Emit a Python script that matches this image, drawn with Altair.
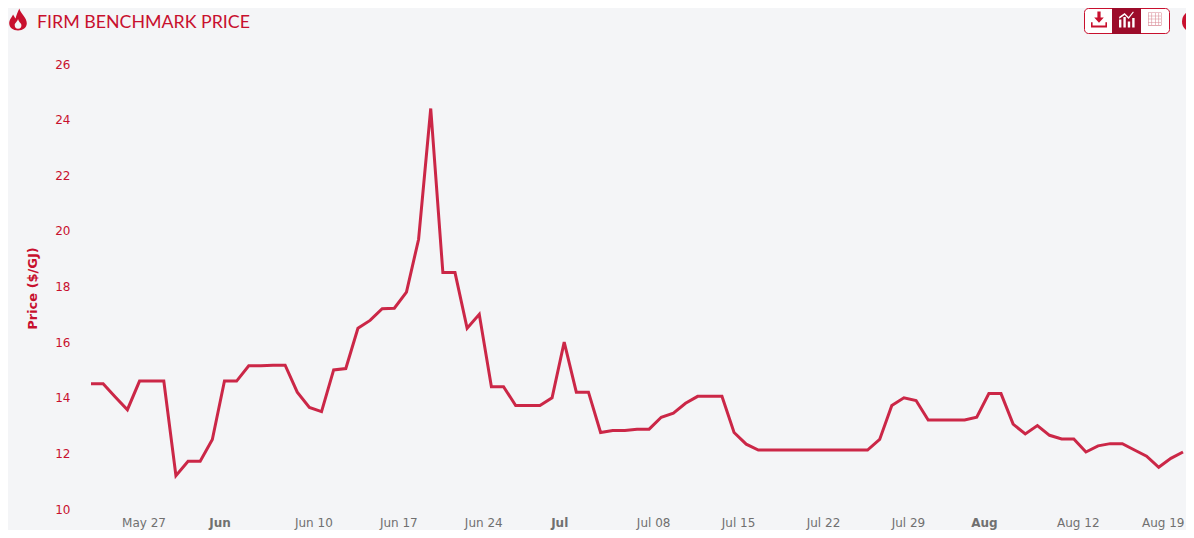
import altair as alt
import pandas as pd

start = "2019-05-23"
prices = [14.5, 14.5, 14.03, 13.57, 14.6, 14.6, 14.6, 11.2, 11.72, 11.72, 12.5, 14.6, 14.6, 15.15, 15.15, 15.17,
          15.17, 14.2, 13.65, 13.5, 15.0, 15.05, 16.5, 16.78, 17.2, 17.22, 17.8, 19.7, 24.4, 18.5, 18.5, 16.5,
          17.0, 14.4, 14.4, 13.72, 13.72, 13.72, 14.0, 16.0, 14.2, 14.2, 12.75, 12.82, 12.82, 12.87, 12.87, 13.3,
          13.45, 13.8, 14.05, 14.05, 14.05, 12.75, 12.33, 12.12, 12.12, 12.12, 12.12, 12.12, 12.12, 12.12, 12.12,
          12.12, 12.12, 12.5, 13.72, 14.0, 13.9, 13.2, 13.2, 13.2, 13.2, 13.3, 14.15, 14.15, 13.05, 12.7, 13.0,
          12.65, 12.52, 12.52, 12.05, 12.27, 12.35, 12.35, 12.12, 11.9, 11.5, 11.82, 12.05]
y_ticks = [10, 12, 14, 16, 18, 20, 22, 24, 26]
x_ticks = [(5, 27), (6, 3), (6, 10), (6, 17), (6, 24), (7, 1), (7, 8), (7, 15), (7, 22), (7, 29), (8, 5), (8, 12), (8, 19)]
title_text = "FIRM BENCHMARK PRICE"
y_title = "Price ($/GJ)"

RED = "#c8102e"
LINE = "#cb2747"
DARK = "#9c0c2a"
BG = "#f4f5f7"
GREY = "#707070"
LEFT, TOP = 91, 64


def px(v):
    return alt.value(v - LEFT)


def py(v):
    return alt.value(v - TOP)


df = pd.DataFrame({"date": pd.date_range(start, periods=len(prices), freq="D"), "price": prices})
blank = alt.Data(values=[{"k": 0}])

line = alt.Chart(df).mark_line(color=LINE, strokeWidth=3, strokeJoin="miter", clip=False).encode(
    x=alt.X("date:T", title=None, scale=alt.Scale(domain=[df.date.iloc[0].isoformat(), df.date.iloc[-1].isoformat()], nice=False),
            axis=alt.Axis(
                values=[alt.DateTime(year=2019, month=m, date=d) for m, d in x_ticks],
                labelExpr="date(datum.value) <= 7 ? timeFormat(datum.value, '%b') : timeFormat(datum.value, '%b %d')",
                labelFontWeight=alt.condition("date(datum.value) <= 7", alt.value("bold"), alt.value("normal")),
                labelOffset=alt.condition("date(datum.value) <= 7", alt.value(-5), alt.value(4)),
                domain=False, ticks=False, grid=False, labelColor=GREY, labelFont="DejaVu Sans",
                labelFontSize=12, labelPadding=8, labelFlush=False, labelOverlap=False)),
    y=alt.Y("price:Q", scale=alt.Scale(domain=[10, 26], nice=False),
            axis=alt.Axis(values=y_ticks, title=y_title, domain=False, ticks=False, grid=False,
                          labelColor=RED, labelFont="DejaVu Sans", labelFontSize=12, labelPadding=21,
                          titleColor=RED, titleFont="DejaVu Sans", titleFontSize=13, titleFontWeight=600,
                          titleX=39 - LEFT, titleY=288 - TOP)),
)


def text(s, x, y, **kw):
    return alt.Chart(blank).mark_text(text=s, baseline="middle", **kw).encode(x=px(x), y=py(y))


def rect(x1, x2, y1, y2, **kw):
    return alt.Chart(blank).mark_rect(**kw).encode(x=px(x1), x2=px(x2), y=py(y1), y2=py(y2))


def glyph(path, x, y, scale, color, **kw):
    return alt.Chart(blank).mark_point(shape=path, size=4 * scale * scale, filled=True, color=color, opacity=1, **kw).encode(x=px(x), y=py(y))


flame = ("M0.12,-1 C0.25,-0.5 0.8,-0.2 0.8,0.35 C0.8,0.75 0.45,1 0,1 C-0.45,1 -0.8,0.75 -0.8,0.35 "
         "C-0.8,0 -0.55,-0.2 -0.45,-0.45 C-0.35,-0.3 -0.3,-0.15 -0.22,-0.1 C-0.15,-0.4 -0.02,-0.7 0.12,-1 Z")
flame_in = "M0,0.85 C0.25,0.85 0.35,0.65 0.3,0.45 C0.25,0.3 0.05,0.2 0,-0.05 C-0.05,0.2 -0.3,0.3 -0.3,0.5 C-0.3,0.7 -0.2,0.85 0,0.85 Z"
download = ("M-0.2,-1 L0.2,-1 L0.2,-0.25 L0.6,-0.25 L0,0.4 L-0.6,-0.25 L-0.2,-0.25 Z "
            "M-1,0.35 L-0.8,0.35 L-0.8,0.75 L0.8,0.75 L0.8,0.35 L1,0.35 L1,1 L-1,1 Z")
bars = ("M-1,0 L-0.7,0 L-0.7,1 L-1,1 Z M-0.45,-0.3 L-0.15,-0.3 L-0.15,1 L-0.45,1 Z M0.1,0.25 L0.4,0.25 L0.4,1 L0.1,1 Z "
        "M0.65,-0.2 L0.95,-0.2 L0.95,1 L0.65,1 Z "
        "M-1,-0.3 L-0.3,-0.8 L0.2,-0.3 L0.75,-1 L0.85,-0.9 L0.2,-0.05 L-0.3,-0.55 L-0.95,-0.1 Z")
table = ("M-1,-1 L1,-1 L1,-0.92 L-1,-0.92 Z M-1,-0.55 L1,-0.55 L1,-0.47 L-1,-0.47 Z M-1,-0.1 L1,-0.1 L1,-0.02 L-1,-0.02 Z "
         "M-1,0.35 L1,0.35 L1,0.43 L-1,0.43 Z M-1,0.8 L1,0.8 L1,0.88 L-1,0.88 Z "
         "M-1,-1 L-0.92,-1 L-0.92,0.88 L-1,0.88 Z M-0.5,-1 L-0.42,-1 L-0.42,0.88 L-0.5,0.88 Z M0,-1 L0.08,-1 L0.08,0.88 L0,0.88 Z "
         "M0.5,-1 L0.58,-1 L0.58,0.88 L0.5,0.88 Z M1,-1 L0.92,-1 L0.92,0.88 L1,0.88 Z")

layers = [
    line,
    text(title_text, 37, 23, align="left", font="Lato", fontSize=17.8, color=RED),
    glyph(flame, 18, 19.5, 11, RED),
    glyph(flame_in, 18, 19.5, 11, BG),
    rect(1084.5, 1169.5, 8.5, 33.5, fill="white", stroke=RED, strokeWidth=1, cornerRadius=4),
    rect(1112, 1141, 8, 34, fill=DARK),
    glyph(download, 1099, 19.5, 8, RED),
    glyph(bars, 1127, 19.5, 8, "white"),
    glyph(table, 1155, 19.5, 7, "#d98a95"),
    alt.Chart(blank).mark_point(shape="circle", size=484, filled=True, color=RED, opacity=1).encode(x=px(1193), y=py(21.5)),
    text("i", 1190, 22, align="center", font="DejaVu Sans", fontWeight="bold", fontSize=14, color="white"),
]

chart = alt.layer(*layers).properties(
    width=1092,
    height=445,
    autosize="none",
    padding={"left": LEFT - 8, "top": TOP - 8, "right": 3, "bottom": 21},
    background=BG,
).configure_view(stroke=None)

chart.save("out.html", embed_options={"renderer": "svg", "actions": False})
